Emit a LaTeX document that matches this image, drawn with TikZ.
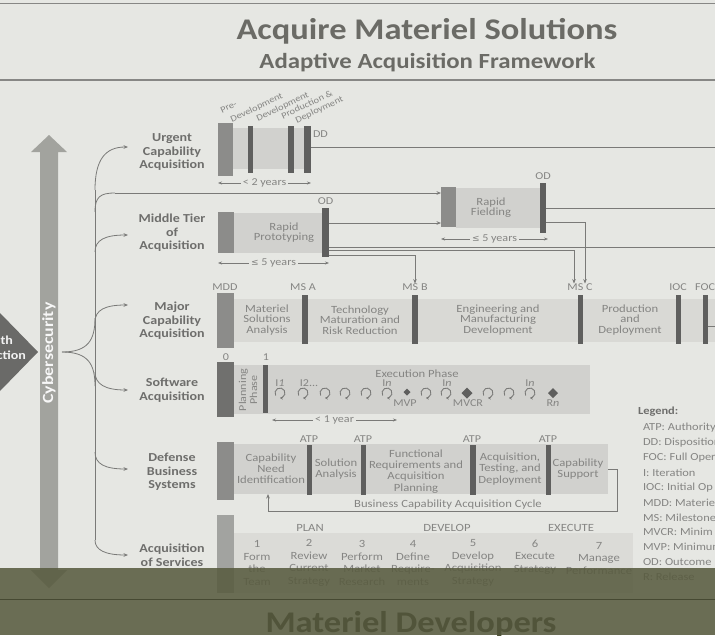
\documentclass[tikz,border=0pt]{standalone}
\usepackage{fontspec}
\setmainfont{Carlito}[FakeStretch=1.15]
\newfontfamily\symfont{DejaVu Sans}
\usetikzlibrary{arrows.meta,calc,shapes.geometric}
\definecolor{bg}{HTML}{E6E7E3}
\definecolor{ttl}{HTML}{6B6B66}
\definecolor{lbl}{HTML}{6E6E6C}
\definecolor{txt}{HTML}{858583}
\definecolor{dbar}{HTML}{5F5F5E}
\definecolor{bbar}{HTML}{8C8C8A}
\definecolor{band}{HTML}{D1D1CE}
\definecolor{lband}{HTML}{D9D9D5}
\definecolor{ln}{HTML}{7A7A78}
\definecolor{olive}{HTML}{585B3F}
\definecolor{cyb}{HTML}{A2A39E}
\definecolor{tri}{HTML}{6A6A68}
\begin{document}
\begin{tikzpicture}[x=1pt,y=-1pt,
  every node/.style={inner sep=0pt,outer sep=0pt},
  rowlbl/.style={font=\fontsize{12.2}{13.5}\selectfont\bfseries,text=lbl,align=center},
  body/.style={font=\fontsize{11}{10.3}\selectfont,text=txt,align=center},
  dbody/.style={body,font=\fontsize{11}{11.2}\selectfont},
  sbody/.style={body,font=\fontsize{11}{12.7}\selectfont},
  small/.style={font=\fontsize{10.5}{10}\selectfont,text=txt},
  rotlbl/.style={font=\fontsize{9}{9}\selectfont,text=txt,rotate=25,anchor=base west},
  bigbar/.style={fill=bbar,minimum width=16pt},
  thinbar/.style={fill=dbar,minimum width=6pt},
  conn/.style={draw=ln,line width=0.8pt},
  arr/.style={conn,-{Stealth[length=4.5pt,width=3.6pt]}},
  dimar/.style={draw=ln,line width=0.7pt,{Stealth[length=4pt,width=3pt]}-{Stealth[length=4pt,width=3pt]}},
  dimtxt/.style={small,fill=bg,inner xsep=2pt,inner ysep=1pt},
  loopst/.style={draw=ln,line width=0.9pt,-{Stealth[length=2.8pt,width=3.2pt]}},
  diam/.style={diamond,fill=dbar,aspect=1},
  legend/.style={font=\fontsize{10.8}{12}\selectfont,text=txt,anchor=west},
  hdr/.style={draw=ln!90,line width=1.1pt},
  loopic/.pic={\draw[loopst] (150:5) arc[start angle=150,delta angle=300,radius=5];}
]
\useasboundingbox (0,0) rectangle (715,635);
\fill[bg] (0,0) rectangle (715,635);

% ---------- header ----------
\draw[hdr] (0,3.5) -- (715,3.5);
\draw[hdr] (0,80) -- (715,80);
\node[font=\fontsize{30}{30}\selectfont\bfseries,text=ttl,anchor=base] (title) at (427,39) {Acquire Materiel Solutions};
\node[font=\fontsize{21.6}{22}\selectfont\bfseries,text=ttl,anchor=base] (subtitle) at (427.5,68) {Adaptive Acquisition Framework};

% ---------- left: cybersecurity arrow and triangle ----------
\fill[tri] (0,313) -- (38,352) -- (0,391) -- cycle;
\node[font=\fontsize{12.2}{12}\selectfont\bfseries,text=white!90!gray,anchor=east] (pth) at (13,340) {th};
\node[font=\fontsize{12.2}{12}\selectfont\bfseries,text=white!90!gray,anchor=east] (psel) at (26,355) {ction};
\fill[cyb] (49,135) -- (67,152) -- (58,152) -- (58,570) -- (67,570) -- (49,588) -- (31,570) -- (40,570) -- (40,152) -- (31,152) -- cycle;
\node[rotate=90,font=\fontsize{15.5}{15}\selectfont\bfseries,text=white!94!gray] (cyber) at (49,353) {Cybersecurity};

% ---------- row labels ----------
\node[rowlbl] (ucalbl) at (172,152) {Urgent\\Capability\\Acquisition};
\node[rowlbl] (mtalbl) at (172,233) {Middle Tier\\of\\Acquisition};
\node[rowlbl] (mcalbl) at (172,321) {Major\\Capability\\Acquisition};
\node[rowlbl] (swlbl) at (172,390) {Software\\Acquisition};
\node[rowlbl] (dbslbl) at (172,472) {Defense\\Business\\Systems};
\node[rowlbl] (aoslbl) at (172,555) {Acquisition\\of Services};

% ---------- branching connectors ----------
\coordinate (tip) at (62,352);
\coordinate (trtop) at (95,190);
\coordinate (trbot) at (95,540);
\coordinate (ua) at (128,147);
\coordinate (ma) at (128,235);
\coordinate (ja) at (128,305);
\coordinate (sa) at (128,390);
\coordinate (da) at (128,469);
\coordinate (aa) at (128,555);
\coordinate (mfy) at (115,193);
\draw[conn] (trtop) -- (trbot);
\draw[conn] (tip) .. controls (88,352) and (95,340) .. (95,318);
\draw[conn] (tip) .. controls (88,352) and (95,364) .. (95,386);
\draw[arr] (trtop) .. controls (95,160) and (105,147) .. (ua);
\draw[arr] (95,252) .. controls (95,240) and (105,235) .. (ma);
\draw[arr] (95,322) .. controls (95,310) and (105,305) .. (ja);
\draw[arr] (95,372) .. controls (95,384) and (105,390) .. (sa);
\draw[arr] (95,452) .. controls (95,464) and (105,469) .. (da);
\draw[arr] (trbot) .. controls (95,550) and (105,555) .. (aa);

% ---------- Urgent Capability Acquisition ----------
\fill[band] (233,128) rectangle (305,169);
\node[bigbar,minimum width=15pt,minimum height=53pt] (ucbar) at (225.5,149.5) {};
\node[thinbar,minimum width=5pt,minimum height=47pt] (ucb1) at (250.5,149.5) {};
\node[thinbar,minimum height=47pt] (ucb2) at (291,149.5) {};
\node[thinbar,minimum width=7pt,minimum height=47pt] (ucdd) at (307.5,149.5) {};
\node[small,anchor=west] (ddl) at (313,134) {DD};
\node[rotlbl] (rl1) at (222,113) {Pre-};
\node[rotlbl] (rl2) at (232,122) {Development};
\node[rotlbl] (rl3) at (258,121) {Development};
\node[rotlbl] (rl4) at (283,119) {Production \&};
\node[rotlbl] (rl5) at (297,123) {Deployment};
\coordinate (R147) at (715,147);
\draw[conn] (ucdd.east |- R147) -- (R147);
\coordinate (d0a) at (218,183);
\coordinate (d0b) at (311,183);
\draw[dimar] (d0a) -- (d0b) node[dimtxt,midway] (d0t) {< 2 years};

% ---------- Middle Tier of Acquisition ----------
\fill[band] (234,213) rectangle (322,253);
\node[bigbar,minimum height=41pt] (mtbar) at (226,232.5) {};
\node[body] (rptxt) at (284,232.5) {Rapid\\Prototyping};
\node[thinbar,minimum width=7pt,minimum height=49pt] (rpod) at (325.5,232.5) {};
\node[small] (odl1) at (325.5,201) {OD};
\coordinate (d1a) at (218,263);
\coordinate (d1b) at (329,263);
\draw[dimar] (d1a) -- (d1b) node[dimtxt,midway] (d1t) {{\symfont\fontsize{9}{9}\selectfont ≤} 5 years};

\fill[band] (456,188) rectangle (540,228);
\node[bigbar,minimum width=15pt,minimum height=40pt] (rfbar) at (448.5,207) {};
\node[body] (rftxt) at (491,207.5) {Rapid\\Fielding};
\node[thinbar,minimum height=50pt] (rfod) at (543,208) {};
\node[small] (odl2) at (543,176) {OD};
\coordinate (d2a) at (441,239);
\coordinate (d2b) at (548,239);
\draw[dimar] (d2a) -- (d2b) node[dimtxt,midway] (d2t) {{\symfont\fontsize{9}{9}\selectfont ≤} 5 years};

% ---------- Major Capability Acquisition ----------
\fill[lband] (234,299) rectangle (715,342);
\node[bigbar,minimum width=17pt,minimum height=55pt] (mcbar) at (225.5,320.5) {};
\node[thinbar,minimum height=49pt] (msa) at (305,319.5) {};
\node[thinbar,minimum height=49pt] (msb) at (415,319.5) {};
\node[thinbar,minimum width=5pt,minimum height=49pt] (msc) at (580.5,319.5) {};
\node[thinbar,minimum width=5pt,minimum height=49pt] (ioc) at (678.5,319.5) {};
\node[thinbar,minimum width=5pt,minimum height=49pt] (foc) at (705.5,319.5) {};
\node[small] (mddl) at (225,287) {MDD};
\node[small] (msal) at (303,287) {MS A};
\node[small] (msbl) at (415,287) {MS B};
\node[small] (mscl) at (580,287) {MS C};
\node[small] (iocl) at (678,287) {IOC};
\node[small] (focl) at (705,287) {FOC};
\node[body] (msatx) at (267,320) {Materiel\\Solutions\\Analysis};
\node[body] (tmrr) at (360,320) {Technology\\Maturation and\\Risk Reduction};
\node[body] (emd) at (498,320) {Engineering and\\Manufacturing\\Development};
\node[body] (pd) at (630,320) {Production\\and\\Deployment};
\coordinate (R326) at (715,326);
\draw[conn] (foc.east |- R326) -- (R326);

% ---------- middle tier connectors ----------
\coordinate (rfy) at (400,223);
\coordinate (R247) at (715,247);
\coordinate (R208) at (715,208);
\coordinate (C250) at (574,250);
\coordinate (C222) at (585,222);
\coordinate (B255) at (415,255);
\draw[arr] (mfy) -- (rfbar.west |- mfy);
\draw[conn] (95,212) .. controls (95,197) and (100,193) .. (mfy);
\draw[arr] (rpod.east |- rfy) -- (rfbar.west |- rfy);
\draw[conn] (rpod.east |- R247) -- (R247);
\draw[arr] (rpod.east |- C250) -- (C250) -- (C250 |- mscl.north);
\draw[arr] (rpod.east |- B255) -- (B255) -- (B255 |- msbl.north);
\draw[conn] (rfod.east |- R208) -- (R208);
\draw[arr] (rfod.east |- C222) -- (C222) -- (C222 |- mscl.north);

% ---------- Software Acquisition ----------
\fill[band] (234,365) rectangle (590,414);
\node[bigbar,minimum width=17pt,minimum height=55pt,fill=bbar!80!black] (swbar) at (225.5,389.5) {};
\node[small] (zero) at (226,357) {0};
\node[small] (one) at (266,357) {1};
\node[body,rotate=90,font=\fontsize{10.5}{11}\selectfont] (plan) at (248,390) {Planning\\Phase};
\node[thinbar,minimum width=5pt,minimum height=48pt] (swb1) at (265.5,389) {};
\node[body] (exph) at (417,374) {Execution Phase};
\node[small] (i1) at (280,383) {I\textit{1}};
\node[small] (i2) at (309,383) {I2...};
\node[small] (in1) at (387,383) {I\textit{n}};
\node[small] (in2) at (447,383) {I\textit{n}};
\node[small] (in3) at (530,383) {I\textit{n}};
\foreach \x [count=\k] in {280,303,325,345,366,387,426,446,488,509,530}
  \pic (lp\k) at (\x,393) {loopic};
\node[diam,minimum size=7pt] (myp) at (407,392) {};
\node[diam,minimum size=11pt] (mvcr) at (467,393) {};
\node[diam,minimum size=10pt] (rn) at (553,393) {};
\node[small] (mypl) at (405,403.5) {MVP};
\node[small] (mvcrl) at (468,403.5) {MVCR};
\node[small] (rnl) at (553,403.5) {R\textit{n}};
\coordinate (d3a) at (272,420);
\coordinate (d3b) at (397,420);
\draw[dimar] (d3a) -- (d3b) node[dimtxt,midway] (d3t) {< 1 year};

% ---------- Defense Business Systems ----------
\node[fill=band,minimum width=374pt,minimum height=50pt,anchor=north west] (dbsband) at (234,444) {};
\node[bigbar,minimum width=17pt,minimum height=58pt] (dbsbar) at (225.5,471) {};
\node[thinbar,minimum width=5pt,minimum height=50pt] (atp1) at (309.5,470) {};
\node[thinbar,minimum width=5pt,minimum height=50pt] (atp2) at (363.5,470) {};
\node[thinbar,minimum height=50pt] (atp3) at (473,470) {};
\node[thinbar,minimum width=5pt,minimum height=50pt] (atp4) at (548.5,470) {};
\node[small] (atpl1) at (309,439) {ATP};
\node[small] (atpl2) at (363,439) {ATP};
\node[small] (atpl3) at (472,439) {ATP};
\node[small] (atpl4) at (548,439) {ATP};
\node[dbody] (cni) at (271,469) {Capability\\Need\\Identification};
\node[dbody] (sol) at (336,469) {Solution\\Analysis};
\node[dbody] (fra) at (416,471.5) {Functional\\Requirements and\\Acquisition\\Planning};
\node[dbody] (atd) at (510,469) {Acquisition,\\Testing, and\\Deployment};
\node[dbody] (csup) at (578,469) {Capability\\Support};
\coordinate (cnitip) at (268,494);
\draw[arr] (dbsband.east) -- ++(9,0) -- ++(0,42) -| (cnitip);
\node[body] (bcac) at (448,505) {Business Capability Acquisition Cycle};

% ---------- Acquisition of Services ----------
\fill[band!55!bg] (234,533) rectangle (633,593);
\node[bigbar,minimum width=17pt,minimum height=78pt,fill=bbar!75!bg] (aosbar) at (225.5,554) {};
\node[body] (planl) at (310,528) {PLAN};
\node[body] (devl) at (447,528) {DEVELOP};
\node[body] (exel) at (571,528) {EXECUTE};
\node[sbody] (s1) at (257,563) {1\\Form\\the\\Team};
\node[sbody] (s2) at (309,563) {2\\Review\\Current\\Strategy};
\node[sbody] (s3) at (362,563) {3\\Perform\\Market\\Research};
\node[sbody] (s4) at (413,563) {4\\Define\\Require-\\ments};
\node[sbody] (s5) at (473,563) {5\\Develop\\Acquisition\\Strategy};
\node[sbody] (s6) at (535,557) {6\\Execute\\Strategy};
\node[sbody] (s7) at (599,558.5) {7\\Manage\\Performance};

% ---------- legend ----------
\begin{scope}
\clip (630,400) rectangle (715,600);
\node[legend,font=\fontsize{10.8}{12}\selectfont\bfseries,text=lbl] (lgh) at (638,412) {Legend:};
\foreach \t [count=\i from 0] in {ATP: Authority,DD: Disposition,FOC: Full Oper,I: Iteration,IOC: Initial Op,MDD: Materiel,MS: Milestone,MVCR: Minim,MVP: Minimum,OD: Outcome,R: Release}
  \node[legend] (lg\i) at (643,{428+14.9*\i}) {\t};
\end{scope}

% ---------- bottom overlay ----------
\fill[olive,opacity=0.87] (0,568) rectangle (715,635);
\draw[draw=olive!80!black,line width=1pt] (0,599) -- (715,599);
\node[font=\fontsize{30}{30}\selectfont\bfseries,text=olive!92!black,anchor=base] (matdev) at (411,632) {Materiel Developers};
\end{tikzpicture}
\end{document}
